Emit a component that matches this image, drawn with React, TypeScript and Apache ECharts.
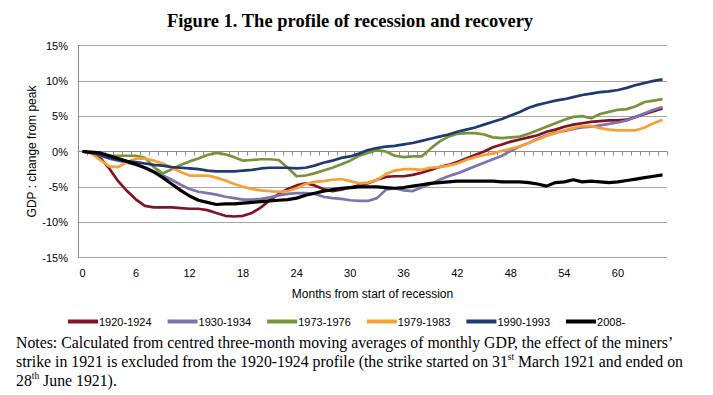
import React, { useEffect, useRef } from "react";
import * as echarts from "echarts";

const months = [
  0, 1, 2, 3, 4, 5, 6, 7, 8, 9, 10, 11, 12, 13, 14, 15, 16, 17, 18, 19, 20, 21,
  22, 23, 24, 25, 26, 27, 28, 29, 30, 31, 32, 33, 34, 35, 36, 37, 38, 39, 40, 41,
  42, 43, 44, 45, 46, 47, 48, 49, 50, 51, 52, 53, 54, 55, 56, 57, 58, 59, 60, 61,
  62, 63, 64, 65,
];

const r1920 = [
  0, -0.2, -0.9, -2.4, -4.2, -5.6, -6.8, -7.7, -7.9, -7.9, -7.9, -8.0, -8.1, -8.1,
  -8.3, -8.7, -9.1, -9.2, -9.1, -8.7, -7.9, -6.9, -6.0, -5.3, -4.8, -4.5, -4.8,
  -5.3, -5.6, -5.4, -5.1, -4.8, -4.5, -4.0, -3.6, -3.5, -3.5, -3.3, -3.0, -2.6,
  -2.2, -1.9, -1.5, -1.0, -0.5, 0.0, 0.6, 1.0, 1.4, 1.7, 2.0, 2.3, 2.8, 3.1, 3.5,
  3.8, 4.0, 4.2, 4.3, 4.4, 4.4, 4.5, 4.9, 5.3, 5.7, 6.1,
];

const r1930 = [
  0, -0.2, -0.6, -1.0, -1.3, -1.6, -1.9, -2.3, -2.8, -3.4, -4.0, -4.7, -5.3, -5.7,
  -5.9, -6.1, -6.4, -6.6, -6.8, -6.8, -6.7, -6.5, -6.2, -6.0, -5.9, -5.9, -6.0,
  -6.4, -6.6, -6.7, -6.9, -7.0, -7.0, -6.6, -5.4, -5.2, -5.5, -5.6, -5.1, -4.6,
  -4.0, -3.5, -3.1, -2.6, -2.1, -1.6, -1.1, -0.6, 0.1, 0.7, 1.2, 1.8, 2.3, 2.7, 2.9,
  3.2, 3.4, 3.5, 3.7, 3.9, 4.1, 4.4, 4.9, 5.4, 5.9, 6.3,
];

const r1973 = [
  0, -0.2, -0.4, -0.6, -0.6, -0.6, -0.6, -0.9, -2.2, -3.1, -2.5, -1.9, -1.4, -1.0,
  -0.5, -0.2, -0.4, -0.8, -1.3, -1.2, -1.1, -1.1, -1.2, -2.3, -3.5, -3.4, -3.1,
  -2.7, -2.3, -1.8, -1.3, -0.6, -0.2, 0.2, 0.0, -0.6, -0.8, -0.7, -0.7, 0.4, 1.4,
  2.1, 2.5, 2.6, 2.6, 2.4, 2.0, 1.9, 2.0, 2.1, 2.5, 3.0, 3.5, 4.0, 4.5, 4.9, 5.0,
  4.7, 5.3, 5.6, 5.9, 6.0, 6.4, 7.0, 7.2, 7.4,
];

const r1979 = [
  0, -0.3, -1.2, -2.1, -2.2, -1.5, -1.0, -1.0, -1.3, -1.7, -2.3, -2.9, -3.4, -3.4,
  -3.4, -3.7, -4.1, -4.6, -5.0, -5.3, -5.5, -5.6, -5.7, -5.6, -5.2, -4.6, -4.3,
  -4.2, -4.0, -3.9, -4.2, -4.5, -4.4, -4.0, -3.2, -2.7, -2.5, -2.5, -2.6, -2.3,
  -2.2, -2.0, -1.7, -1.2, -0.8, -0.5, -0.3, 0.1, 0.4, 0.7, 1.2, 1.7, 2.2, 2.6, 3.0,
  3.3, 3.6, 3.6, 3.3, 3.1, 3.0, 3.0, 3.0, 3.4, 4.0, 4.5,
];

const r1990 = [
  0, -0.2, -0.5, -0.9, -1.2, -1.4, -1.5, -1.7, -1.9, -2.0, -2.2, -2.3, -2.4, -2.5,
  -2.7, -2.8, -2.8, -2.8, -2.7, -2.6, -2.4, -2.3, -2.3, -2.3, -2.4, -2.3, -2.0,
  -1.6, -1.3, -0.9, -0.7, -0.3, 0.2, 0.5, 0.7, 0.8, 1.0, 1.2, 1.5, 1.8, 2.1, 2.4,
  2.8, 3.1, 3.4, 3.8, 4.2, 4.6, 5.1, 5.6, 6.2, 6.6, 6.9, 7.2, 7.4, 7.7, 8.0, 8.2,
  8.4, 8.5, 8.7, 9.0, 9.4, 9.7, 10.0, 10.2,
];

const r2008 = [
  0, -0.1, -0.2, -0.6, -1.0, -1.4, -1.8, -2.3, -2.9, -3.7, -4.6, -5.5, -6.3, -6.9,
  -7.2, -7.5, -7.4, -7.4, -7.3, -7.2, -7.1, -7.0, -6.9, -6.8, -6.6, -6.2, -5.9,
  -5.6, -5.4, -5.2, -5.1, -5.0, -5.0, -5.0, -5.1, -5.2, -5.1, -4.9, -4.7, -4.5,
  -4.4, -4.3, -4.2, -4.2, -4.2, -4.2, -4.2, -4.3, -4.3, -4.3, -4.4, -4.6, -4.9,
  -4.4, -4.3, -4.0, -4.3, -4.2, -4.3, -4.4, -4.3, -4.1, -3.9, -3.7, -3.5, -3.3,
];

const seriesNames = ["1920-1924", "1930-1934", "1973-1976", "1979-1983", "1990-1993", "2008-"];
const seriesData = [r1920, r1930, r1973, r1979, r1990, r2008];
const seriesColors = ["#7F1426", "#7E73AE", "#78933A", "#F7A134", "#1F3A70", "#000000"];

const titleText = "Figure 1. The profile of recession and recovery";
const yAxisName = "GDP : change from peak";
const xAxisName = "Months from start of recession";
const notesText =
  "Notes: Calculated from centred three-month moving averages of monthly GDP, the effect of the miners’\n" +
  "strike in 1921 is excluded from the 1920-1924 profile (the strike started on 31{sup|st} March 1921 and ended on\n" +
  "28{sup|th} June 1921).";

export default function App() {
  const ref = useRef<HTMLDivElement>(null);
  useEffect(() => {
    if (!ref.current) return;
    const chart = echarts.init(ref.current, null, { renderer: "svg" });
    const cats = months.map(String);
    const serif = "'Liberation Serif', 'Times New Roman', serif";
    chart.setOption({
      animation: false,
      backgroundColor: "#ffffff",
      textStyle: { fontFamily: "'Liberation Sans', Arial, sans-serif" },
      grid: { left: 78, top: 45.5, width: 589, height: 212 },
      graphic: [
        {
          type: "text",
          x: 350,
          y: 21,
          style: {
            text: titleText,
            align: "center",
            verticalAlign: "middle",
            fontSize: 18.5,
            fontWeight: "bold",
            fontFamily: serif,
            fill: "#000",
          },
        },
        {
          type: "text",
          x: 16,
          y: 333,
          style: {
            text: notesText,
            fontSize: 15.8,
            fontFamily: serif,
            lineHeight: 19,
            fill: "#000",
            rich: {
              sup: {
                fontSize: 9.5,
                fontFamily: serif,
                verticalAlign: "top",
                lineHeight: 12,
                fill: "#000",
              },
            },
          },
        },
      ],
      legend: {
        left: 68,
        top: 316,
        padding: 0,
        icon: "rect",
        itemWidth: 30,
        itemHeight: 4,
        itemGap: 16,
        textStyle: { fontSize: 11, color: "#000", padding: [0, 0, 0, -4] },
        data: seriesNames,
      },
      xAxis: [
        {
          type: "category",
          data: cats,
          boundaryGap: true,
          position: "bottom",
          axisLine: { onZero: true, lineStyle: { color: "#8c8c8c", width: 1 } },
          axisTick: { show: true, interval: 0, length: 4, inside: false, lineStyle: { color: "#8c8c8c" } },
          axisLabel: { show: false },
          splitLine: { show: false },
        },
        {
          type: "category",
          data: cats,
          boundaryGap: true,
          position: "bottom",
          axisLine: { show: false, onZero: false },
          axisTick: { show: false },
          axisLabel: { interval: 5, color: "#000", fontSize: 11, margin: 10 },
          splitLine: { show: false },
          name: xAxisName,
          nameLocation: "middle",
          nameGap: 30,
          nameTextStyle: { fontSize: 12, color: "#000" },
        },
      ],
      yAxis: {
        type: "value",
        min: -15,
        max: 15,
        interval: 5,
        axisLine: { show: true, lineStyle: { color: "#8c8c8c" } },
        axisTick: { show: false },
        axisLabel: { formatter: (v: number) => `${v}%`, color: "#000", fontSize: 11, margin: 10 },
        splitLine: { lineStyle: { color: "#a6a6a6", width: 1 } },
        name: yAxisName,
        nameLocation: "middle",
        nameGap: 40,
        nameMoveOverlap: false,
        nameTextStyle: { fontSize: 12, color: "#000" },
      },
      series: seriesNames.map((name, i) => ({
        name,
        type: "line",
        xAxisIndex: 0,
        data: seriesData[i],
        showSymbol: false,
        symbol: "none",
        color: seriesColors[i],
        lineStyle: { width: i === 5 ? 3.2 : 2.7, color: seriesColors[i] },
      })),
    });
    return () => chart.dispose();
  }, []);
  return (
    <div
      ref={ref}
      style={{ position: "fixed", left: 0, top: 0, width: 713, height: 395, background: "#fff" }}
    />
  );
}
